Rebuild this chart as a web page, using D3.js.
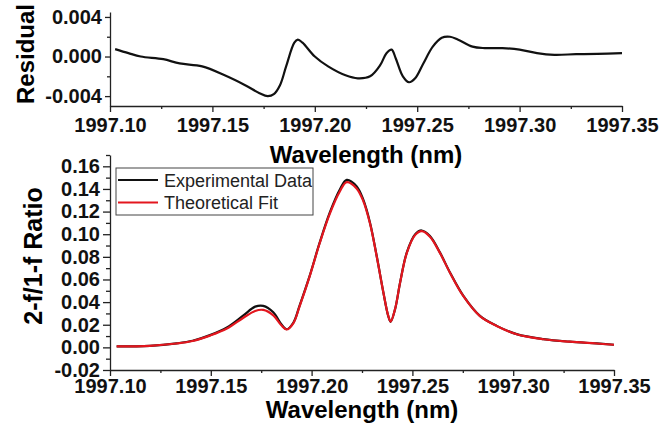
<!DOCTYPE html>
<html>
<head>
<meta charset="utf-8">
<script src="https://cdn.jsdelivr.net/npm/d3@7"></script>
<style>
  body { margin: 0; background: #fff; }
  svg { display: block; font-family: "Liberation Sans", Arial, sans-serif; }
  .axis path, .axis line { stroke: #222; stroke-width: 1.3; }
  .axis text { font-size: 20px; font-weight: bold; fill: #111; font-family: "Liberation Sans", Arial, sans-serif; }
</style>
</head>
<body>
<svg id="main-svg" width="672" height="432"></svg>
<script>
// residual panel (top)
const resWave = [1997.1025, 1997.109, 1997.115, 1997.126, 1997.134, 1997.145, 1997.156, 1997.166, 1997.173, 1997.177,
  1997.180, 1997.183, 1997.186, 1997.190, 1997.1917, 1997.194, 1997.200, 1997.2065, 1997.215, 1997.221,
  1997.227, 1997.232, 1997.235, 1997.2375, 1997.2395, 1997.243, 1997.246, 1997.249, 1997.253, 1997.2576,
  1997.262, 1997.266, 1997.270, 1997.277, 1997.283, 1997.2916, 1997.300, 1997.3085, 1997.317, 1997.3276,
  1997.338, 1997.35];
const resValue = [0.00075, 0.00034, 0.0, -0.00027, -0.0007, -0.001, -0.0019, -0.0029, -0.0037, -0.004,
  -0.0038, -0.0029, -0.001, 0.0014, 0.0017, 0.0014, 0.0, -0.001, -0.0019, -0.0022,
  -0.002, -0.00085, 0.00034, 0.0007, -0.00017, -0.002, -0.0026, -0.0022, -0.0007, 0.001,
  0.0019, 0.002, 0.0017, 0.001, 0.00085, 0.00085, 0.0007, 0.00034, 0.00017, 0.00024,
  0.00027, 0.00034];

// ratio panel (bottom)
const specWave = [1997.1033, 1997.1198, 1997.133, 1997.141, 1997.1496, 1997.158, 1997.166, 1997.172, 1997.176, 1997.181,
  1997.185, 1997.1876, 1997.191, 1997.194, 1997.199, 1997.204, 1997.209, 1997.214, 1997.2174, 1997.2223,
  1997.2256, 1997.229, 1997.2323, 1997.2356, 1997.238, 1997.2392, 1997.2414, 1997.2439, 1997.2472, 1997.2513,
  1997.2546, 1997.2587, 1997.2637, 1997.2687, 1997.2753, 1997.2835, 1997.2918, 1997.3017, 1997.315, 1997.328,
  1997.3414, 1997.35];
const expRatio = [0.0009, 0.0014, 0.0035, 0.0058, 0.0108, 0.0176, 0.028, 0.036, 0.0367, 0.031,
  0.0205, 0.016, 0.022, 0.0367, 0.063, 0.0925, 0.119, 0.1395, 0.148, 0.1424,
  0.1307, 0.110, 0.0807, 0.0485, 0.0278, 0.0226, 0.0337, 0.0573, 0.0837, 0.0998,
  0.1033, 0.0984, 0.0837, 0.066, 0.0455, 0.0278, 0.019, 0.0117, 0.0073, 0.005,
  0.0035, 0.0023];
const fitRatio = [0.0009, 0.0014, 0.0034, 0.0056, 0.0104, 0.0166, 0.026, 0.0322, 0.0331, 0.0283,
  0.0195, 0.0158, 0.0215, 0.036, 0.0625, 0.092, 0.118, 0.1378, 0.146, 0.1405,
  0.1295, 0.1092, 0.0803, 0.0485, 0.028, 0.0228, 0.0338, 0.0572, 0.0833, 0.0992,
  0.1027, 0.0978, 0.0833, 0.0657, 0.0452, 0.0276, 0.0189, 0.0116, 0.0072, 0.005,
  0.0034, 0.0023];

// ticks
const xTicks = [1997.10, 1997.15, 1997.20, 1997.25, 1997.30, 1997.35];
const xMinor = [1997.125, 1997.175, 1997.225, 1997.275, 1997.325];
const resTicks = [-0.004, 0.0, 0.004];
const resMinor = [-0.002, 0.002];
const ratioTicks = [-0.02, 0.0, 0.02, 0.04, 0.06, 0.08, 0.10, 0.12, 0.14, 0.16];
const ratioMinor = [-0.01, 0.01, 0.03, 0.05, 0.07, 0.09, 0.11, 0.13, 0.15, 0.17];
const legendItems = [
  { label: 'Experimental Data', color: '#111' },
  { label: 'Theoretical Fit', color: '#e3161e' }
];

const svg = d3.select('#main-svg');
const fmt = p => d => d3.format(p)(d).replace('\u2212', '-');

// ---------- top panel ----------
const xTop = d3.scaleLinear().domain([1997.10, 1997.35]).range([110, 622]);
const yTop = d3.scaleLinear().domain([-0.005, 0.0045]).range([106, 12]);

svg.append('g').attr('class', 'axis')
    .attr('transform', 'translate(0,106)')
    .call(d3.axisBottom(xTop).tickValues(xTicks).tickFormat(fmt('.2f')).tickSize(6).tickSizeOuter(0).tickPadding(6));
svg.append('g').attr('class', 'axis')
    .attr('transform', 'translate(0,106)')
    .call(d3.axisBottom(xTop).tickValues(xMinor).tickFormat('').tickSize(3).tickSizeOuter(0))
    .select('.domain').remove();
svg.append('g').attr('class', 'axis')
    .attr('transform', 'translate(110,0)')
    .call(d3.axisLeft(yTop).tickValues(resTicks).tickFormat(fmt('.3f')).tickSize(5).tickSizeOuter(0).tickPadding(3));
svg.append('g').attr('class', 'axis')
    .attr('transform', 'translate(110,0)')
    .call(d3.axisLeft(yTop).tickValues(resMinor).tickFormat('').tickSize(3).tickSizeOuter(0))
    .select('.domain').remove();

const resData = resWave.map((w, i) => [w, resValue[i]]);
svg.append('path')
    .datum(resData)
    .attr('fill', 'none')
    .attr('stroke', '#111')
    .attr('stroke-width', 2.2)
    .attr('d', d3.line().x(d => xTop(d[0])).y(d => yTop(d[1])).curve(d3.curveCatmullRom.alpha(0.5)));

svg.append('text')
    .attr('x', 366).attr('y', 163)
    .attr('text-anchor', 'middle')
    .style('font-size', '24px').style('font-weight', 'bold')
    .text('Wavelength (nm)');
svg.append('text')
    .attr('transform', 'translate(34,54) rotate(-90)')
    .attr('text-anchor', 'middle')
    .style('font-size', '24px').style('font-weight', 'bold')
    .text('Residual');

// ---------- bottom panel ----------
const xBot = d3.scaleLinear().domain([1997.10, 1997.35]).range([110, 614]);
const yBot = d3.scaleLinear().domain([-0.02, 0.17]).range([370, 155]);

svg.append('g').attr('class', 'axis')
    .attr('transform', 'translate(0,370)')
    .call(d3.axisBottom(xBot).tickValues(xTicks).tickFormat(fmt('.2f')).tickSize(6).tickSizeOuter(0).tickPadding(3));
svg.append('g').attr('class', 'axis')
    .attr('transform', 'translate(0,370)')
    .call(d3.axisBottom(xBot).tickValues(xMinor).tickFormat('').tickSize(3).tickSizeOuter(0))
    .select('.domain').remove();
svg.append('g').attr('class', 'axis')
    .attr('transform', 'translate(110,0)')
    .call(d3.axisLeft(yBot).tickValues(ratioTicks).tickFormat(fmt('.2f')).tickSize(7).tickSizeOuter(0).tickPadding(3));
svg.append('g').attr('class', 'axis')
    .attr('transform', 'translate(110,0)')
    .call(d3.axisLeft(yBot).tickValues(ratioMinor).tickFormat('').tickSize(4).tickSizeOuter(0))
    .select('.domain').remove();

const lineBot = d3.line().x(d => xBot(d[0])).y(d => yBot(d[1])).curve(d3.curveCatmullRom.alpha(0.5));
const series = [
  specWave.map((w, i) => [w, expRatio[i]]),
  specWave.map((w, i) => [w, fitRatio[i]])
];
svg.selectAll('path.series')
    .data(series)
    .enter()
    .append('path')
    .attr('class', 'series')
    .attr('fill', 'none')
    .attr('stroke', (d, i) => legendItems[i].color)
    .attr('stroke-width', 2.2)
    .attr('d', lineBot);

svg.append('text')
    .attr('x', 362).attr('y', 418)
    .attr('text-anchor', 'middle')
    .style('font-size', '24px').style('font-weight', 'bold')
    .text('Wavelength (nm)');
svg.append('text')
    .attr('transform', 'translate(42,256) rotate(-90)')
    .attr('text-anchor', 'middle')
    .style('font-size', '25px').style('font-weight', 'bold')
    .text('2-f/1-f Ratio');

// legend
const legend = svg.append('g').attr('transform', 'translate(116,168)');
legend.append('rect')
    .attr('width', 197).attr('height', 47)
    .attr('fill', '#fff').attr('stroke', '#444').attr('stroke-width', 1);
const rows = legend.selectAll('g.row')
    .data(legendItems)
    .enter()
    .append('g')
    .attr('class', 'row')
    .attr('transform', (d, i) => `translate(0,${12 + i * 22.5})`);
rows.append('line')
    .attr('x1', 2).attr('x2', 42)
    .attr('stroke', d => d.color).attr('stroke-width', 2);
rows.append('text')
    .attr('x', 48).attr('y', 6.5)
    .style('font-size', '18px')
    .style('fill', '#222')
    .text(d => d.label);
</script>
</body>
</html>
